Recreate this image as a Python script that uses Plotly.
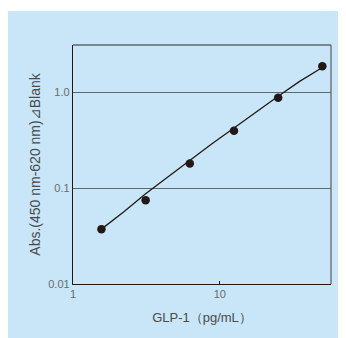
import plotly.graph_objects as go

# Data
conc = [1.5625, 3.125, 6.25, 12.5, 25, 50]          # GLP-1 (pg/mL)
absorb = [0.0373, 0.0746, 0.18, 0.396, 0.873, 1.86]  # Abs.(450-620)⊿Blank

# fitted curve
fit_x = [1.5625, 2.2, 3.125, 4.4, 6.25, 8.8, 12.5, 17.7, 25, 35, 50]
fit_y = [0.0373, 0.056, 0.087, 0.130, 0.195, 0.287, 0.422, 0.622, 0.905, 1.29, 1.80]

x_ticks = [1, 10]
x_ticktext = ["1", "10"]
y_ticks = [0.01, 0.1, 1]
y_ticktext = ["0.01", "0.1", "1.0"]

BG = "#C8E6F8"
INK = "#231815"
GRID = "#5E6870"
TXT = "#4a4a4a"

fig = go.Figure()
fig.add_trace(go.Scatter(x=fit_x, y=fit_y, mode="lines", line=dict(color=INK, width=1.3),
                         hoverinfo="skip", showlegend=False))
fig.add_trace(go.Scatter(x=conc, y=absorb, mode="markers", marker=dict(color=INK, size=8.5),
                         showlegend=False))

fig.update_layout(
    width=338, height=330,
    margin=dict(l=65, r=15, t=37, b=54),
    paper_bgcolor="white",
    plot_bgcolor="rgba(0,0,0,0)",
    font=dict(family="Liberation Sans, Arial, sans-serif", color=TXT),
    shapes=[
        dict(type="rect", xref="paper", yref="paper", x0=-0.3, x1=1.2, y0=-0.4, y1=1.142,
             fillcolor=BG, line=dict(width=0), layer="below"),
        dict(type="line", xref="paper", yref="paper", x0=0, x1=1, y0=1, y1=1,
             line=dict(color=GRID, width=1.3)),
        dict(type="line", xref="paper", yref="paper", x0=1, x1=1, y0=0, y1=1,
             line=dict(color=GRID, width=1.3)),
    ],
    xaxis=dict(type="log", range=[0, 1.758], tickvals=x_ticks, ticktext=x_ticktext,
               showgrid=False, zeroline=False, showline=True, linecolor=INK, linewidth=1.3,
               ticks="inside", ticklen=3, tickcolor=INK, tickfont=dict(size=11, color="#6a6a6a"),
               title=dict(text="GLP-1（pg/mL）", font=dict(size=13, color=TXT), standoff=13)),
    yaxis=dict(type="log", range=[-2, 0.49], tickvals=y_ticks, ticktext=y_ticktext,
               showgrid=True, gridcolor=GRID, gridwidth=1.3, zeroline=False,
               showline=True, linecolor=INK, linewidth=1.3, ticks="",
               tickfont=dict(size=11, color="#6a6a6a"),
               title=dict(text="Abs.(450 nm-620 nm)⊿Blank", font=dict(size=14, color=TXT), standoff=4)),
)

fig.write_html("out.html")
